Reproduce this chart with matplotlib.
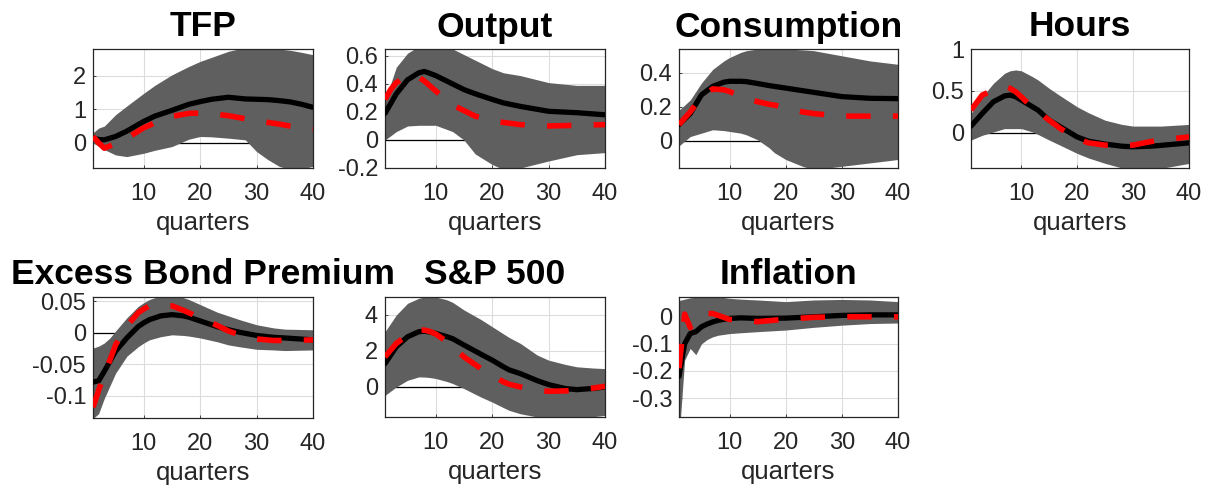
import matplotlib
matplotlib.use("Agg")
import matplotlib.pyplot as plt

plt.rcParams['font.family'] = ['Liberation Sans', 'DejaVu Sans']

titles = ["TFP", "Output", "Consumption", "Hours",
          "Excess Bond Premium", "S&P 500", "Inflation"]
xlabel = "quarters"

# ---------------- TFP ----------------
tfp_q = [1, 2, 3, 5, 7, 10, 12, 15, 18, 20, 22, 25, 28, 30, 32, 34, 36, 38, 40]
tfp_med = [0.14, 0.10, 0.09, 0.19, 0.35, 0.64, 0.80, 0.97, 1.15, 1.23, 1.30, 1.36, 1.31, 1.30, 1.29, 1.26, 1.22, 1.15, 1.06]
tfp_red = [0.19, 0.00, -0.16, -0.02, 0.14, 0.45, 0.60, 0.79, 0.88, 0.89, 0.87, 0.81, 0.72, 0.66, 0.61, 0.56, 0.50, 0.46, 0.42]
tfp_hi = [0.30, 0.44, 0.50, 0.84, 1.10, 1.48, 1.72, 2.03, 2.28, 2.43, 2.55, 2.73, 2.85, 2.84, 2.82, 2.80, 2.76, 2.70, 2.63]
tfp_lo = [0.00, -0.10, -0.20, -0.36, -0.41, -0.31, -0.22, -0.11, 0.11, 0.19, 0.18, 0.14, 0.09, -0.26, -0.50, -0.70, -0.80, -0.78, -0.70]

# ---------------- Output ----------------
out_q = [1, 2, 3, 5, 7, 8, 10, 13, 15, 17, 20, 22, 25, 30, 35, 40]
out_med = [0.19, 0.26, 0.33, 0.43, 0.48, 0.49, 0.46, 0.40, 0.36, 0.33, 0.29, 0.265, 0.24, 0.205, 0.195, 0.18]
out_red = [0.29, 0.36, 0.41, 0.46, 0.45, 0.42, 0.35, 0.25, 0.21, 0.17, 0.14, 0.125, 0.11, 0.10, 0.105, 0.11]
out_hi = [0.27, 0.40, 0.52, 0.62, 0.67, 0.68, 0.69, 0.65, 0.61, 0.57, 0.51, 0.48, 0.46, 0.41, 0.39, 0.39]
out_lo = [0.00, 0.03, 0.06, 0.10, 0.105, 0.105, 0.105, 0.06, 0.00, -0.10, -0.175, -0.21, -0.20, -0.15, -0.105, -0.09]

# ---------------- Consumption ----------------
con_q = [1, 3, 5, 7, 9, 10, 12, 13, 15, 17, 18, 20, 23, 25, 30, 35, 40]
con_med = [0.095, 0.16, 0.27, 0.32, 0.345, 0.35, 0.35, 0.348, 0.337, 0.325, 0.32, 0.31, 0.295, 0.285, 0.26, 0.25, 0.248]
con_red = [0.095, 0.17, 0.26, 0.305, 0.30, 0.29, 0.26, 0.25, 0.23, 0.215, 0.21, 0.195, 0.17, 0.16, 0.145, 0.145, 0.145]
con_hi = [0.18, 0.24, 0.34, 0.42, 0.47, 0.49, 0.52, 0.53, 0.54, 0.55, 0.55, 0.54, 0.535, 0.53, 0.50, 0.47, 0.45]
con_lo = [-0.03, 0.025, 0.045, 0.065, 0.06, 0.055, 0.045, 0.035, 0.006, -0.04, -0.07, -0.11, -0.15, -0.17, -0.15, -0.13, -0.11]

# ---------------- Hours ----------------
hrs_q = [1, 3, 5, 7, 8, 9, 10, 12, 13, 15, 17, 20, 22, 25, 28, 30, 33, 35, 40]
hrs_med = [0.08, 0.23, 0.37, 0.44, 0.45, 0.43, 0.39, 0.31, 0.27, 0.15, 0.07, -0.05, -0.10, -0.135, -0.16, -0.167, -0.16, -0.15, -0.12]
hrs_red = [0.27, 0.45, 0.51, 0.555, 0.53, 0.49, 0.43, 0.30, 0.25, 0.15, 0.05, -0.07, -0.12, -0.147, -0.15, -0.147, -0.107, -0.087, -0.048]
hrs_hi = [0.23, 0.43, 0.59, 0.71, 0.74, 0.75, 0.74, 0.67, 0.63, 0.53, 0.44, 0.31, 0.24, 0.15, 0.10, 0.08, 0.08, 0.08, 0.10]
hrs_lo = [-0.087, -0.03, 0.01, 0.05, 0.05, 0.05, 0.05, 0.01, -0.02, -0.087, -0.15, -0.246, -0.30, -0.365, -0.42, -0.43, -0.43, -0.425, -0.365]

# ---------------- Excess Bond Premium ----------------
ebp_q = [1, 2, 3, 4, 5, 7, 9, 10, 11, 13, 15, 17, 18, 20, 23, 25, 27, 30, 33, 35, 40]
ebp_med = [-0.078, -0.076, -0.061, -0.045, -0.029, -0.008, 0.010, 0.016, 0.021, 0.027, 0.029, 0.027, 0.025, 0.019, 0.010, 0.005, 0.001, -0.004, -0.007, -0.008, -0.011]
ebp_red = [-0.118, -0.091, -0.067, -0.043, -0.019, 0.011, 0.032, 0.038, 0.043, 0.044, 0.043, 0.036, 0.032, 0.024, 0.012, 0.003, -0.003, -0.0096, -0.012, -0.012, -0.011]
ebp_hi = [-0.024, -0.021, -0.016, -0.008, 0.003, 0.024, 0.042, 0.048, 0.053, 0.059, 0.059, 0.056, 0.053, 0.045, 0.033, 0.027, 0.021, 0.013, 0.008, 0.006, 0.005]
ebp_lo = [-0.136, -0.128, -0.104, -0.084, -0.064, -0.037, -0.022, -0.016, -0.011, -0.006, -0.003, -0.004, -0.005, -0.008, -0.014, -0.019, -0.022, -0.026, -0.027, -0.028, -0.027]

# ---------------- S&P 500 ----------------
sp_q = [1, 3, 5, 7, 8, 9, 10, 12, 13, 15, 18, 20, 22, 23, 25, 28, 30, 33, 35, 38, 40]
sp_med = [1.30, 2.23, 2.79, 3.07, 3.10, 3.05, 2.98, 2.79, 2.68, 2.33, 1.82, 1.49, 1.12, 0.95, 0.74, 0.35, 0.13, -0.09, -0.15, -0.08, 0.00]
sp_red = [1.67, 2.42, 2.88, 3.16, 3.16, 3.08, 2.94, 2.51, 2.25, 1.67, 1.02, 0.65, 0.28, 0.15, 0.00, -0.19, -0.24, -0.22, -0.17, -0.06, 0.04]
sp_hi = [3.07, 4.00, 4.65, 4.93, 5.00, 5.05, 5.00, 4.84, 4.70, 4.28, 3.75, 3.35, 2.95, 2.75, 2.42, 1.77, 1.49, 1.25, 1.12, 1.05, 1.02]
sp_lo = [-0.47, 0.00, 0.37, 0.56, 0.55, 0.52, 0.47, 0.30, 0.19, -0.09, -0.56, -0.84, -1.15, -1.30, -1.49, -1.67, -1.77, -1.77, -1.72, -1.65, -1.58]

# ---------------- Inflation ----------------
inf_q = [1, 2, 3, 4, 5, 6, 7, 8, 10, 12, 15, 20, 25, 30, 35, 40]
inf_med = [-0.22, -0.10, -0.062, -0.055, -0.037, -0.027, -0.019, -0.013, -0.006, -0.004, -0.006, -0.005, 0.000, 0.005, 0.007, 0.007]
inf_red = [-0.19, 0.01, -0.04, -0.01, 0.005, 0.012, 0.012, 0.005, -0.010, -0.014, -0.018, -0.009, -0.002, 0.000, 0.000, 0.000]
inf_hi = [0.060, 0.065, 0.070, 0.072, 0.074, 0.075, 0.075, 0.074, 0.068, 0.065, 0.062, 0.056, 0.062, 0.064, 0.062, 0.056]
inf_lo = [-0.45, -0.16, -0.117, -0.14, -0.10, -0.084, -0.074, -0.068, -0.062, -0.059, -0.055, -0.049, -0.039, -0.031, -0.025, -0.023]

panels = [
    (tfp_q, tfp_med, tfp_red, tfp_lo, tfp_hi, (-0.75, 2.8), [0, 1, 2], ["0", "1", "2"]),
    (out_q, out_med, out_red, out_lo, out_hi, (-0.2, 0.65), [-0.2, 0, 0.2, 0.4, 0.6], ["-0.2", "0", "0.2", "0.4", "0.6"]),
    (con_q, con_med, con_red, con_lo, con_hi, (-0.16, 0.54), [0, 0.2, 0.4], ["0", "0.2", "0.4"]),
    (hrs_q, hrs_med, hrs_red, hrs_lo, hrs_hi, (-0.42, 1.0), [0, 0.5, 1], ["0", "0.5", "1"]),
    (ebp_q, ebp_med, ebp_red, ebp_lo, ebp_hi, (-0.135, 0.057), [-0.1, -0.05, 0, 0.05], ["-0.1", "-0.05", "0", "0.05"]),
    (sp_q, sp_med, sp_red, sp_lo, sp_hi, (-1.67, 5.0), [0, 2, 4], ["0", "2", "4"]),
    (inf_q, inf_med, inf_red, inf_lo, inf_hi, (-0.37, 0.073), [-0.3, -0.2, -0.1, 0], ["-0.3", "-0.2", "-0.1", "0"]),
]

W, H = 1215, 488
# axes boxes in pixels: left, right, top, bottom
boxes = [
    (93, 313, 49, 168), (385, 605, 49, 168), (679, 898, 49, 168), (971, 1189, 49, 168),
    (93, 313, 297, 418), (385, 605, 297, 417), (679, 898, 297, 417),
]

fig = plt.figure(figsize=(W / 100, H / 100), dpi=100)
txtc = '#262626'
for (q, med, red, lo, hi, ylim, yt, ytl), (l, r, t, b), title in zip(panels, boxes, titles):
    ax = fig.add_axes([l / W, 1 - b / H, (r - l) / W, (b - t) / H])
    ax.set_axisbelow(True)
    ax.grid(True, color='#dcdcdc', linewidth=0.8)
    ax.axhline(0, color='black', linewidth=0.9, zorder=1)
    ax.fill_between(q, lo, hi, color='#5f5f5f', linewidth=0, zorder=2)
    ax.plot(q, med, color='black', linewidth=3.8, zorder=3, solid_capstyle='round')
    ax.plot(q, red, color='#ff0000', linewidth=4.0, zorder=4,
            linestyle=(0, (4.4, 4.0)))
    ax.set_xlim(1, 40)
    ax.set_ylim(*ylim)
    ax.set_xticks([10, 20, 30, 40])
    ax.set_yticks(yt)
    ax.set_yticklabels(ytl)
    ax.tick_params(direction='in', length=2, width=0.6, colors=txtc,
                   labelsize=17, pad=5)
    ax.tick_params(axis='x', pad=11)
    for s in ax.spines.values():
        s.set_color(txtc)
        s.set_linewidth(0.9)
    ax.set_xlabel(xlabel, fontsize=18.5, color=txtc, labelpad=4)
    ax.set_title(title, fontsize=25.5, fontweight='bold', color='black', pad=9)

fig.savefig("out.png", dpi=100)
